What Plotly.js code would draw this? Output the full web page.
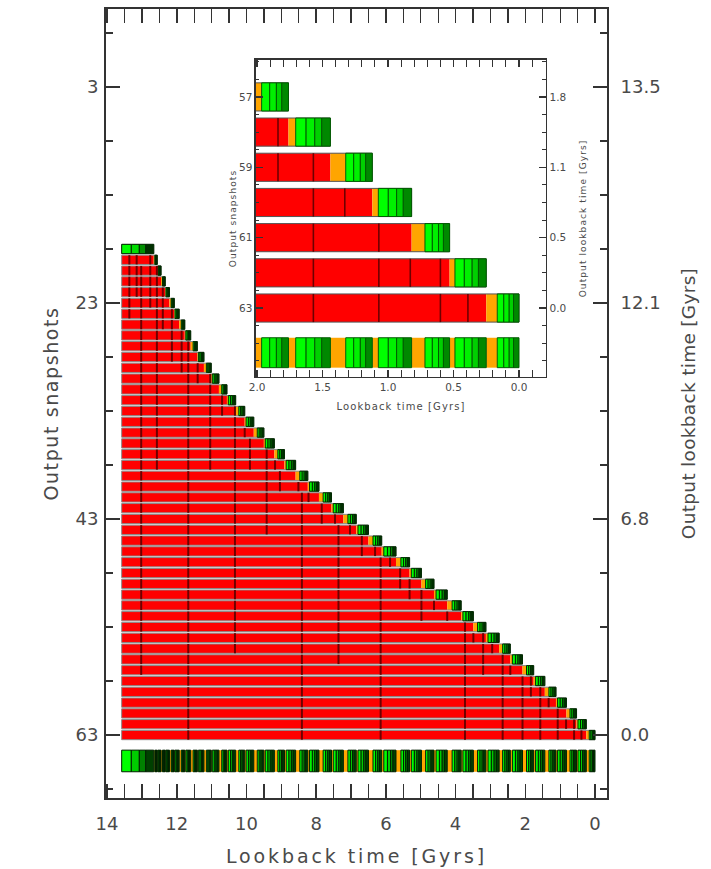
<!DOCTYPE html>
<html><head><meta charset="utf-8">
<script src="https://cdn.plot.ly/plotly-3.0.1.min.js"></script>
<style>
body{margin:0;background:#fff}
#chart{width:711px;height:869px}
.xtitle{letter-spacing:2.9px}
.ytitle{letter-spacing:1.6px}
.y2title{letter-spacing:0.3px}
.x2title,.y3title,.y4title{letter-spacing:1.1px}
</style>
</head><body><div id="chart"></div>
<script>
// ---------------- data ----------------
const startTime = 13.58;                 // Gyr, start of every bar
const snapshots = [18,19,20,21,22,23,24,25,26,27,28,29,30,31,32,33,34,35,36,37,38,39,40,
                   41,42,43,44,45,46,47,48,49,50,51,52,53,54,55,56,57,58,59,60,61,62,63];
// lookback time of each output snapshot (end of each bar)
const lookback = [12.66,12.56,12.45,12.33,12.21,12.07,11.93,11.77,11.60,11.41,11.22,11.01,10.79,
                  10.56,10.31,10.05,9.79,9.50,9.20,8.91,8.59,8.24,7.92,7.56,7.22,6.85,6.50,6.12,
                  5.71,5.32,4.98,4.62,4.24,3.84,3.49,3.13,2.75,2.43,2.08,1.76,1.44,1.12,0.82,
                  0.53,0.25,0.00];
// width of the orange (newest merged) bin in each row, Gyr
const orangeWidth = [0,0.03,0.02,0.04,0.02,0.05,0.02,0.06,0.03,0.07,0.03,0.07,0.03,0.08,0.04,0.09,
                     0.04,0.10,0.04,0.10,0.05,0.12,0.05,0.12,0.05,0.13,0.05,0.13,0.06,0.14,0.05,
                     0.12,0.06,0.14,0.05,0.12,0.06,0.10,0.06,0.115,0.055,0.117,0.046,0.102,0.041,0.084];
// red-bin boundaries: time (Gyr) and the first / last snapshot row that shows it
const dividerTime  = [13.36,13.15,13.02,12.76,12.57,12.40,12.14,11.86,11.67,11.40,11.04,10.70,10.33,
                      10.05,9.90,9.42,9.18,9.04,8.51,8.41,8.22,7.84,7.46,7.36,7.03,6.69,6.31,6.15,
                      5.88,5.59,5.32,4.98,4.62,4.24,3.73,3.49,3.21,2.95,2.65,2.43,2.08,1.84,1.57,
                      1.33,1.07,0.83,0.60,0.39];
const dividerFirst = [19,19,20,19,20,22,24,26,27,28,30,31,33,34,36,37,38,39,40,41,41,42,43,44,44,
                      45,46,47,47,48,49,50,51,52,52,53,54,55,56,57,57,58,59,60,61,62,62,63];
const dividerLast  = [24,22,57,23,38,25,28,29,63,30,38,33,55,35,38,44,38,40,40,63,41,43,43,56,44,
                      46,46,63,47,49,50,52,51,52,63,54,57,55,63,57,63,59,63,60,63,62,63,63];
// axis labels
const mainXTicks = [14,12,10,8,6,4,2,0];
const mainYTicks = [3,23,43,63];
const mainRightLabels = ['13.5','12.1','6.8','0.0'];
const insetYTicks = [57,59,61,63];
const insetRightLabels = ['1.8','1.1','0.5','0.0'];

// ---------------- styles ----------------
const RED = '#ff0000', ORANGE = '#ffa500';
const GREEN_FRAC = [0.3,0.25,0.2,0.25];
const TXT = '#4a4a4a';

function build(xa, ya, halfW, stripY, stripW, divWidth, frameColor, greens, gLine, sGreens, sLine) {
  const fill = {y:[],base:[],x:[],c:[]}, grn = {y:[],base:[],x:[],c:[]};
  const frame = {y:[],base:[],x:[]}, div = {x:[],y:[]};
  const sFill = {y:[],base:[],x:[],c:[]}, sGrn = {y:[],base:[],x:[],c:[]};
  function push(t, y, lo, len, c){ t.y.push(y); t.base.push(lo); t.x.push(len); if (c) t.c.push(c); }
  function addGreen(t, y, hi, lo, pal){
    let cur = hi;
    GREEN_FRAC.forEach((f,j)=>{ const w=(hi-lo)*f; push(t,y,cur-w,w,pal[j]); cur-=w; });
  }
  snapshots.forEach((s,i)=>{
    const end = lookback[i];
    push(frame, s, end, startTime-end);
    let gHi = startTime;
    if (i>0){
      const redEnd = lookback[i-1], ow = orangeWidth[i];
      push(fill, s, redEnd, startTime-redEnd, RED);
      push(fill, s, redEnd-ow, ow, ORANGE);
      push(sFill, stripY, redEnd-ow, ow, ORANGE);
      gHi = redEnd-ow;
      dividerTime.forEach((t,k)=>{
        if (s>=dividerFirst[k] && s<=dividerLast[k] && t>redEnd+0.005 && t<startTime){
          div.x.push(t,t,null); div.y.push(s-halfW, s+halfW, null);
        }
      });
    }
    addGreen(grn, s, gHi, end, greens);
    addGreen(sGrn, stripY, gHi, end, sGreens);
  });
  const bar = (d, w, color, line) => ({type:'bar', orientation:'h', xaxis:xa, yaxis:ya,
      y:d.y, base:d.base, x:d.x, width:w, hoverinfo:'skip',
      marker:{color:color, line:line}});
  return [
    bar(fill, 2*halfW, fill.c, {width:0}),
    bar(frame, 2*halfW, 'rgba(0,0,0,0)', {width:1, color:frameColor}),
    {type:'scatter', mode:'lines', xaxis:xa, yaxis:ya, x:div.x, y:div.y, hoverinfo:'skip',
     line:{color:'#6e0000', width:divWidth}},
    bar(grn, 2*halfW, grn.c, {width:1, color:gLine}),
    bar(sFill, stripW, sFill.c, {width:0}),
    bar(sGrn, stripW, sGrn.c, {width:1, color:sLine})
  ];
}

const traces = [
  ...build('x','y',0.43,65.4,2.0,2,'#8a8a8a',
           ['#00ff00','#00dd00','#009000','#003000'],'#002a00',
           ['#00ff00','#00cc00','#008000','#004000'],'#002000'),
  ...build('x2','y3',0.4,64.27,0.85,1.6,'#555555',
           ['#00ff00','#00f000','#00d000','#008800'],'#005a00',
           ['#00ff00','#00f000','#00d000','#008800'],'#005a00'),
  {type:'scatter', mode:'markers', xaxis:'x', yaxis:'y2', x:[0], y:[63], marker:{opacity:0}, hoverinfo:'skip'},
  {type:'scatter', mode:'markers', xaxis:'x2', yaxis:'y4', x:[0], y:[63], marker:{opacity:0}, hoverinfo:'skip'}
];

const mainTick = {ticks:'inside', ticklen:14, tickwidth:1.5, tickcolor:'#333', showline:true,
  linecolor:'#333', linewidth:2, showgrid:false, zeroline:false, tickfont:{size:18, color:TXT}};
const insetTick = {ticks:'inside', ticklen:7, tickwidth:1.2, tickcolor:'#333', showline:true,
  linecolor:'#333', linewidth:1.5, showgrid:false, zeroline:false, tickfont:{size:10.5, color:TXT}};
const mainRangeY = [68.83,-4.22], insetRangeY = [64.96,55.95];
const mainMinorY = {tickmode:'linear', tick0:3, dtick:5, ticks:'inside', ticklen:7, tickwidth:1.3, tickcolor:'#333'};
const insetMinorY = {tickmode:'linear', tick0:57, dtick:0.5, ticks:'inside', ticklen:3.5, tickwidth:1, tickcolor:'#333'};

const layout = {
  width:711, height:869, margin:{l:106, r:104, t:9, b:71},
  paper_bgcolor:'#fff', plot_bgcolor:'#fff', showlegend:false, barmode:'overlay',
  font:{family:'DejaVu Sans', color:TXT},
  xaxis: Object.assign({}, mainTick, {domain:[0,1], anchor:'y', range:[14.03,-0.344],
    tickmode:'array', tickvals:mainXTicks, mirror:'allticks', ticklabelstandoff:8,
    minor:{tickmode:'linear', tick0:0, dtick:0.5, ticks:'inside', ticklen:7, tickwidth:1.3, tickcolor:'#333'},
    title:{text:'Lookback time [Gyrs]', font:{size:19, color:TXT}, standoff:17}}),
  yaxis: Object.assign({}, mainTick, {domain:[0,1], anchor:'x', range:mainRangeY,
    tickmode:'array', tickvals:mainYTicks, mirror:true, ticklabelstandoff:2, minor:mainMinorY,
    title:{text:'Output snapshots', font:{size:19, color:TXT}, standoff:12}}),
  yaxis2: Object.assign({}, mainTick, {overlaying:'y', side:'right', anchor:'x', range:mainRangeY,
    tickmode:'array', tickvals:mainYTicks, ticktext:mainRightLabels, ticklabelstandoff:8, minor:mainMinorY,
    title:{text:'Output lookback time [Gyrs]', font:{size:18.5, color:TXT}, standoff:22}}),
  xaxis2: Object.assign({}, insetTick, {domain:[0.2994,0.8782], anchor:'y3', range:[2.008,-0.206],
    tickmode:'linear', tick0:0, dtick:0.5, tickformat:'.1f', mirror:'allticks',
    minor:{tickmode:'linear', tick0:0, dtick:0.1, ticks:'inside', ticklen:3.5, tickwidth:1, tickcolor:'#333'},
    title:{text:'Lookback time [Gyrs]', font:{size:10, color:TXT}, standoff:11}}),
  yaxis3: Object.assign({}, insetTick, {domain:[0.5336,0.9354], anchor:'x2', range:insetRangeY,
    tickmode:'array', tickvals:insetYTicks, mirror:true, minor:insetMinorY,
    title:{text:'Output snapshots', font:{size:9, color:TXT}, standoff:1}}),
  yaxis4: Object.assign({}, insetTick, {overlaying:'y3', side:'right', anchor:'x2', range:insetRangeY,
    tickmode:'array', tickvals:insetYTicks, ticktext:insetRightLabels, minor:insetMinorY,
    title:{text:'Output lookback time [Gyrs]', font:{size:9, color:TXT}, standoff:14}})
};

Plotly.newPlot('chart', traces, layout, {staticPlot:true, displayModeBar:false});
</script>
</body></html>
